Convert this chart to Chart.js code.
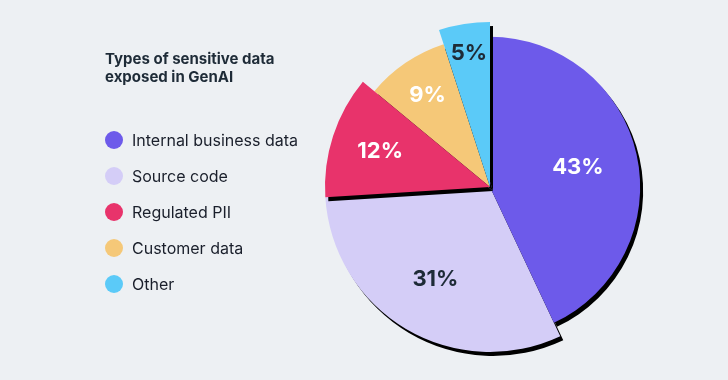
<!DOCTYPE html>
<html>
<head>
<meta charset="utf-8">
<script src="https://cdn.jsdelivr.net/npm/chart.js@4"></script>
<style>
  html, body { margin: 0; padding: 0; }
  body { width: 728px; height: 380px; background: #EDF0F3; position: relative; overflow: hidden; font-family: Inter, "Noto Sans", sans-serif; }
  #c { position: absolute; left: 0; top: 0; }
  #title { position: absolute; left: 105px; top: 50px; font-size: 15px; font-weight: 700; line-height: 18px; color: #1E2B37; }
  #legend { position: absolute; left: 105px; top: 122px; margin: 0; padding: 0; list-style: none; }
  #legend li { height: 36px; display: flex; align-items: center; font-size: 16px; color: #1A1F2B; }
  #legend .dot { width: 18px; height: 18px; border-radius: 50%; margin-right: 9px; flex: none; }
</style>
</head>
<body>
<canvas id="c" width="728" height="380"></canvas>
<div id="title">Types of sensitive data<br>exposed in GenAI</div>
<ul id="legend"></ul>
<script>
// ---- data ----
const categories = ["Internal business data", "Source code", "Regulated PII", "Customer data", "Other"];
const shares = [43, 31, 12, 9, 5];
const titleText = "Types of sensitive data exposed in GenAI";

// ---- styles ----
const sliceColors = ["#6D5AEA", "#D4CDF7", "#E8336B", "#F5C878", "#5BCAF8"];
const labelColors = ["#FFFFFF", "#1E2B37", "#FFFFFF", "#FFFFFF", "#1E2B37"];
const radiusScale = [0.91, 1, 1, 0.91, 1];
const labelRadius = [0.6, 0.65, 0.7, 0.74, 0.82];
const drawOrder = [1, 0, 3, 2, 4];

// legend
const legendEl = document.getElementById('legend');
categories.forEach((c, i) => {
  const li = document.createElement('li');
  const d = document.createElement('span');
  d.className = 'dot';
  d.style.background = sliceColors[i];
  li.appendChild(d);
  li.appendChild(document.createTextNode(c));
  legendEl.appendChild(li);
});

const radiusPlugin = {
  id: 'radiusPlugin',
  afterDatasetUpdate(chart, args) {
    const meta = chart.getDatasetMeta(args.index);
    const base = meta.controller.outerRadius;
    meta.data.forEach((el, i) => { el.outerRadius = base * radiusScale[i]; });
  }
};

const shadowPlugin = {
  id: 'shadowPlugin',
  beforeDatasetDraw(chart, args) {
    const ctx = chart.ctx;
    const meta = chart.getDatasetMeta(args.index);
    ctx.save();
    ctx.shadowColor = '#000000';
    ctx.shadowOffsetX = 3;
    ctx.shadowOffsetY = 4;
    ctx.shadowBlur = 0;
    drawOrder.forEach(i => meta.data[i].draw(ctx, chart.chartArea));
    ctx.restore();
    return false;
  },
  afterDatasetsDraw(chart) {
    const ctx = chart.ctx;
    const meta = chart.getDatasetMeta(0);
    ctx.save();
    ctx.font = '700 22px Inter, "Noto Sans", sans-serif';
    ctx.textAlign = 'center';
    ctx.textBaseline = 'middle';
    meta.data.forEach((el, i) => {
      const mid = (el.startAngle + el.endAngle) / 2;
      const r = el.outerRadius * labelRadius[i];
      ctx.fillStyle = labelColors[i];
      ctx.fillText(shares[i] + '%', el.x + Math.cos(mid) * r, el.y + Math.sin(mid) * r);
    });
    ctx.restore();
  }
};

new Chart(document.getElementById('c'), {
  type: 'pie',
  data: {
    labels: categories,
    datasets: [{
      data: shares,
      backgroundColor: sliceColors,
      borderWidth: 0,
      hoverOffset: 0,
      offset: 0
    }]
  },
  options: {
    responsive: false,
    devicePixelRatio: 1,
    animation: false,
    events: [],
    layout: { padding: { left: 325, right: 73, top: 22, bottom: 28 } },
    plugins: {
      legend: { display: false },
      tooltip: { enabled: false },
      title: { display: false }
    }
  },
  plugins: [radiusPlugin, shadowPlugin]
});
</script>
</body>
</html>
